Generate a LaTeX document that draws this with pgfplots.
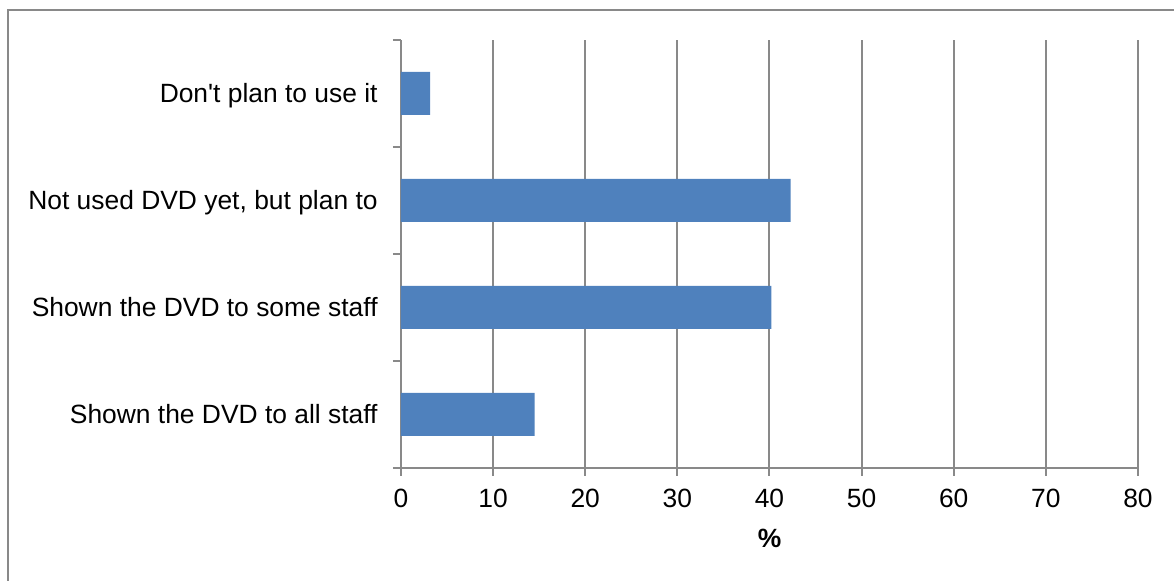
\documentclass[border=0pt]{standalone}
\usepackage{fontspec}
\setmainfont{Liberation Sans}
\usepackage{pgfplots}
\pgfplotsset{compat=1.18}
\definecolor{barblue}{HTML}{4F81BD}
\definecolor{gridgray}{HTML}{898989}
\begin{document}
\begin{tikzpicture}[x=1pt,y=1pt]
\path[use as bounding box] (0,0) rectangle (587,290.5);
\draw[gridgray, line width=1pt] (4,-5) -- (4,285.5) -- (595,285.5);
\begin{axis}[
  at={(200.5pt,56.5pt)}, anchor=south west,
  width=368.5pt, height=214pt, scale only axis,
  xmin=0, xmax=80, ymin=0, ymax=4,
  axis x line*=bottom, axis y line*=left,
  axis line style={gridgray, line width=1pt},
  xtick={0,10,...,80},
  ytick={0,1,2,3,4}, yticklabels={},
  extra y ticks={0.5,1.5,2.5,3.5},
  extra y tick labels={Shown the DVD to all staff, Shown the DVD to some staff, {Not used DVD yet, but plan to}, Don\textquotesingle t plan to use it},
  extra y tick style={major tick length=0pt, yticklabel style={anchor=base east, inner sep=0pt, xshift=-11.5pt, yshift=-4.7pt}},
  xmajorgrids,
  major grid style={gridgray, line width=1pt},
  tick style={gridgray, line width=1pt},
  tick align=outside, major tick length=4pt,
  /pgf/number format/assume math mode=true,
  tick label style={font=\fontsize{13.2}{15}\selectfont, black},
  xticklabel style={anchor=center, inner sep=0pt, yshift=-11pt},
  xlabel={\textbf{\%}},
  xlabel style={at={(axis description cs:0.5,0)}, anchor=center, yshift=-35pt, font=\fontsize{13.2}{15}\selectfont},
  xbar, bar width=21.5pt,
]
\addplot[fill=barblue, draw=none] coordinates {(14.5,0.5) (40.2,1.5) (42.3,2.5) (3.15,3.5)};
\end{axis}
\end{tikzpicture}
\end{document}
